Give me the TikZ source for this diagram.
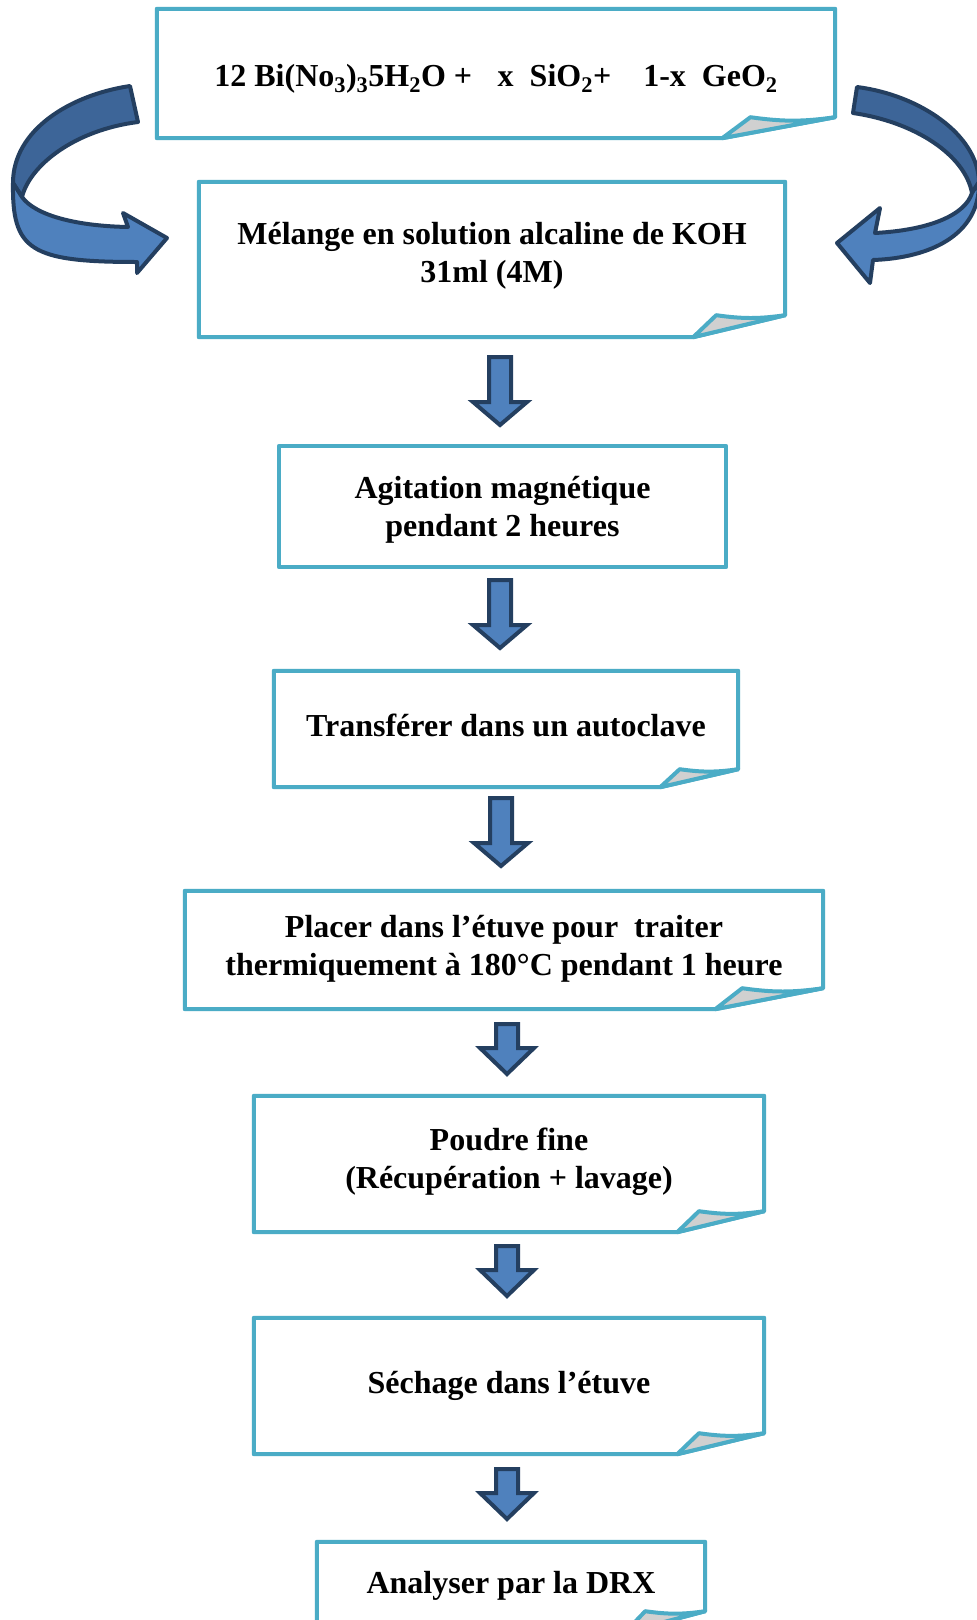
\documentclass[tikz,border=0pt]{standalone}
\usepackage{fontspec}
\setmainfont{Liberation Serif}
\usetikzlibrary{calc}

\definecolor{boxblue}{HTML}{4BACC6}
\definecolor{arrowfill}{HTML}{4F81BD}
\definecolor{arrowback}{HTML}{3D6598}
\definecolor{arrowline}{HTML}{243F60}
\definecolor{flapgray}{HTML}{D0D0D0}

\tikzset{
  stepbox/.style={align=center, inner sep=0pt, font=\bfseries\fontsize{32}{38}\selectfont},
  boxline/.style={draw=boxblue, line width=4pt, line join=round},
  arrowedge/.style={draw=arrowline, line width=4pt, line join=round},
  pics/downarr/.style 2 args={code={
    \draw[arrowedge, line join=miter, fill=arrowfill] (-11,0) -- (11,0) -- (11,#1) -- (27,#1)
      -- (0,{#1+#2}) -- (-27,#1) -- (-11,#1) -- cycle;
  }},
}

% frame with a curled corner: node, fold width, fold height, vertical nudge
\newcommand{\foldframe}[4]{%
  \coordinate (#1a) at ([yshift=#4pt]#1.north west);
  \coordinate (#1b) at ([yshift=#4pt]#1.north east);
  \coordinate (#1c) at ([yshift=#4pt]#1.south west);
  \coordinate (#1f) at ([xshift=-#2pt, yshift=#4pt]#1.south east);
  \coordinate (#1r) at ([yshift={#3pt+(#4pt)}]#1.south east);
  \coordinate (#1t) at ([xshift=-0.75*#2pt, yshift={#3pt+(#4pt)}]#1.south east);
  \draw[boxline] (#1a) -- (#1b) -- (#1r) -- (#1f) -- (#1c) -- cycle;
  \draw[boxline, fill=flapgray] (#1f) -- (#1t) to[bend right=8] (#1r) -- cycle;
}

\begin{document}
\begin{tikzpicture}[x=1pt, y=-1pt]
  \useasboundingbox (0,0) rectangle (977,1620);
  \fill[white] (0,0) rectangle (977,1620);
  \clip (0,0) rectangle (977,1620);

  % steps
  \node[stepbox, minimum width=678, minimum height=129] (b1) at (496,78.5)
    {12 Bi(No\textsubscript{3})\textsubscript{3}5H\textsubscript{2}O +\hspace{0.8em}x\hspace{0.5em}SiO\textsubscript{2}+\hspace{1em}1-x\hspace{0.5em}GeO\textsubscript{2}};
  \node[stepbox, minimum width=586, minimum height=155] (b2) at (492,255.5)
    {Mélange en solution alcaline de KOH\\31ml (4M)};
  \node[stepbox, minimum width=447, minimum height=121] (b3) at (502.5,509.5)
    {Agitation magnétique\\pendant 2 heures};
  \node[stepbox, minimum width=464, minimum height=116] (b4) at (506,725)
    {Transférer dans un autoclave};
  \node[stepbox, minimum width=638, minimum height=118] (b5) at (504,949)
    {Placer dans l’étuve pour\ \ traiter\\thermiquement à 180°C pendant 1 heure};
  \node[stepbox, minimum width=510, minimum height=136] (b6) at (509,1162)
    {Poudre fine\\(Récupération + lavage)};
  \node[stepbox, minimum width=510, minimum height=136] (b7) at (509,1386)
    {Séchage dans l’étuve};
  \node[stepbox, minimum width=388, minimum height=90] (b8) at (511,1586)
    {Analyser par la DRX};

  \foldframe{b1}{113}{21}{5}
  \foldframe{b2}{92}{22}{-4}
  \draw[boxline] ([yshift=3pt]b3.north west) rectangle ([yshift=3pt]b3.south east);
  \foldframe{b4}{78}{18}{-4}
  \foldframe{b5}{108}{21}{-1}
  \foldframe{b6}{87}{21}{-2}
  \foldframe{b7}{87}{21}{0}
  \foldframe{b8}{80}{21}{-1}

  % curved arrows
  \draw[arrowedge, fill=arrowback] (130,86) .. controls (70,95) and (13,130) .. (13,183)
    -- (22,197) .. controls (30,165) and (75,130) .. (138,122) -- cycle;
  \draw[arrowedge, fill=arrowfill] (13,183) .. controls (12,250) and (30,262) .. (137,262)
    -- (137,273) -- (167,238) -- (123,213) -- (128,227)
    .. controls (75,226) and (35,215) .. (22,197) -- cycle;
  \draw[arrowedge, fill=arrowback] (857,87) .. controls (920,95) and (978,135) .. (979,182)
    -- (972,193) .. controls (965,155) and (915,122) .. (853,113) -- cycle;
  \draw[arrowedge, fill=arrowfill] (979,182) .. controls (980,235) and (930,258) .. (873,260)
    -- (870,283) -- (837,243) -- (880,208) -- (875,233)
    .. controls (930,230) and (965,215) .. (972,193) -- cycle;

  % down arrows
  \pic at (500,357) {downarr={45}{23}};
  \pic at (500,580) {downarr={45}{23}};
  \pic at (501,798) {downarr={45}{23}};
  \pic at (507,1024) {downarr={24}{26}};
  \pic at (507,1246) {downarr={24}{26}};
  \pic at (507,1469) {downarr={24}{26}};
\end{tikzpicture}
\end{document}
